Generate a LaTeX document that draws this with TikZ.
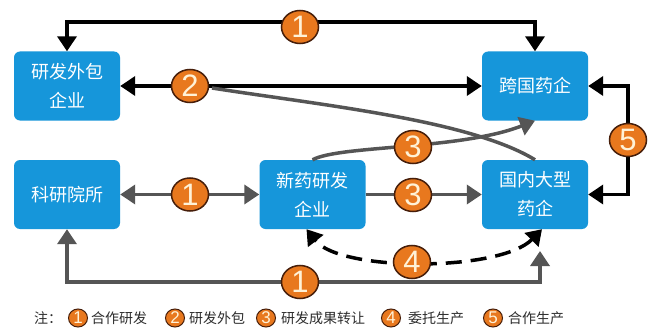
\documentclass[tikz,border=0pt]{standalone}
\usepackage{fontspec}
\newfontfamily\cjk{Noto Sans CJK SC}
\newfontfamily\numfont{Liberation Sans}
\usetikzlibrary{arrows.meta,shapes.geometric}
\definecolor{boxblue}{RGB}{22,150,218}
\definecolor{circorange}{RGB}{232,120,30}
\definecolor{circedge}{RGB}{70,30,10}
\definecolor{linegray}{RGB}{85,85,85}
\definecolor{numcol}{RGB}{255,242,215}
\definecolor{legtext}{RGB}{45,45,45}
\begin{document}
\begin{tikzpicture}[x=1pt,y=-1pt,
  >={Triangle[length=15pt,width=19pt]},
  box/.style={fill=boxblue,rounded corners=6pt,minimum width=106pt,minimum height=69pt,
    text=white,font=\cjk\fontsize{18}{29}\selectfont,align=center,inner sep=0pt},
  num/.style={ellipse,fill=circorange,draw=circedge,line width=1.5pt,minimum width=37pt,
    minimum height=33pt,inner sep=0pt,text=numcol,font=\numfont\fontsize{31}{31}\selectfont},
  lnum/.style={ellipse,fill=circorange,draw=circedge,line width=1pt,minimum width=19pt,
    minimum height=18pt,inner sep=0pt,text=numcol,font=\numfont\fontsize{17}{17}\selectfont},
  legtxt/.style={anchor=west,inner sep=0pt,text=legtext,font=\cjk\fontsize{14}{14}\selectfont},
  blk/.style={line width=3.5pt,draw=black},
  gry/.style={line width=3.5pt,draw=linegray},
  dsh/.style={dash pattern=on 16pt off 9pt}
]
\fill[white] (0,0) rectangle (651,329);
\useasboundingbox (0,0) rectangle (651,329);

% boxes
\node[box] (wb) at (67,86) {研发外包\\企业};
\node[box] (kg) at (535,86) {跨国药企};
\node[box] (ky) at (67,194.5) {科研院所};
\node[box] (nx) at (312.5,194.5) {新药研发\\企业};
\node[box] (gn) at (535,194.5) {国内大型\\药企};

% helper coordinates
\coordinate (topline) at (300,22);
\coordinate (c2s) at (212,88);
\coordinate (r5) at (628,140);
\coordinate (b1) at (300,282);
\coordinate (gnb) at (540,251);

% connectors
\draw[blk,<->] (wb.north) |- (topline) -| (kg.north);
\draw[blk,<->] (wb.east) -- (kg.west);
\draw[gry] (c2s) .. controls (320,105) and (470,120) .. (gn.north);
\draw[gry,->] (nx.north) .. controls (340,145) and (460,150) .. (kg.south);
\draw[gry,->] (nx.east) -- (gn.west);
\draw[gry,<->] (ky.east) -- (nx.west);
\draw[blk,<->] (gn.east) -| (r5) |- (kg.east);
\draw[gry,<->] (ky.south) |- (b1) -| (gnb);
\draw[blk,dsh,<->] ([xshift=7pt]gn.south) .. controls (500,272) and (340,272) .. ([xshift=-6pt]nx.south);

% number markers
\node[num] (n1a) at (300,27) {1};
\node[num] (n2) at (190,86) {2};
\node[num] (n3a) at (413,147) {3};
\node[num] (n3b) at (413,195) {3};
\node[num] (n1b) at (190,194.5) {1};
\node[num] (n5) at (628,140) {5};
\node[num] (n1c) at (300,282) {1};
\node[num] (n4) at (412,262) {4};

% legend
\node[legtxt] (zhu) at (34,318) {注：};
\node[lnum] (l1) at (78,318) {1};
\node[legtxt] (t1) at (91,318) {合作研发};
\node[lnum] (l2) at (175,318) {2};
\node[legtxt] (t2) at (189,318) {研发外包};
\node[lnum] (l3) at (266,318) {3};
\node[legtxt] (t3) at (281,318) {研发成果转让};
\node[lnum] (l4) at (391,318) {4};
\node[legtxt] (t4) at (408,318) {委托生产};
\node[lnum] (l5) at (493,318) {5};
\node[legtxt] (t5) at (508,318) {合作生产};
\end{tikzpicture}
\end{document}
